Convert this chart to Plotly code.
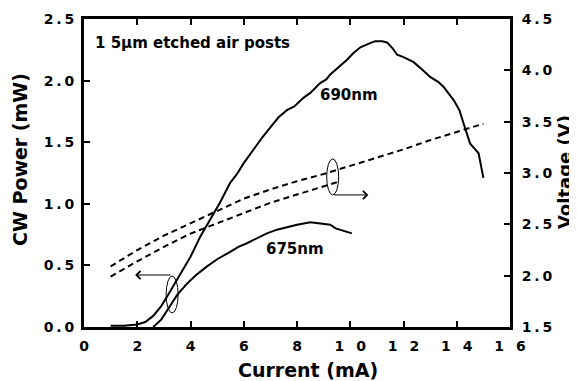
import plotly.graph_objects as go

# 690 nm device: CW power vs current
cur_690 = [1.0, 1.5, 2.0, 2.3, 2.6, 2.9, 3.1, 3.4, 3.73, 4.0, 4.36, 4.74, 5.11, 5.49, 5.74, 6.0,
           6.36, 6.7, 7.0, 7.3, 7.62, 7.9, 8.24, 8.5, 8.87, 9.1, 9.25, 9.62, 9.88, 10.1, 10.38,
           10.7, 10.94, 11.2, 11.38, 11.6, 11.76, 12.0, 12.38, 12.7, 13.0, 13.3, 13.5, 13.89,
           14.1, 14.26, 14.5, 14.7, 14.82, 15.0]
pow_690 = [0.01, 0.01, 0.02, 0.04, 0.09, 0.17, 0.24, 0.35, 0.46, 0.57, 0.73, 0.87, 1.01, 1.17, 1.24, 1.33,
           1.44, 1.54, 1.62, 1.70, 1.76, 1.79, 1.86, 1.90, 1.98, 2.01, 2.05, 2.12, 2.17, 2.22, 2.27,
           2.30, 2.32, 2.32, 2.31, 2.26, 2.21, 2.19, 2.15, 2.09, 2.03, 1.99, 1.95, 1.84,
           1.76, 1.65, 1.49, 1.44, 1.41, 1.21]

# 675 nm device: CW power vs current
cur_675 = [2.6, 2.9, 3.23, 3.5, 3.86, 4.2, 4.61, 5.0, 5.49, 5.8, 6.12, 6.5, 6.87, 7.25, 7.62,
           8.0, 8.5, 8.9, 9.25, 9.45, 9.62, 9.8, 10.06]
pow_675 = [0.0, 0.06, 0.17, 0.26, 0.35, 0.42, 0.49, 0.55, 0.61, 0.65, 0.68, 0.72, 0.76, 0.79, 0.81,
           0.83, 0.85, 0.84, 0.83, 0.80, 0.79, 0.78, 0.76]

# Voltage vs current (dashed)
cur_v690 = [1.0, 2.0, 3.0, 4.0, 5.0, 6.0, 7.0, 8.0, 9.0, 10.0, 11.0, 12.0, 13.0, 14.0, 15.0]
volt_690 = [2.09, 2.25, 2.39, 2.51, 2.63, 2.75, 2.84, 2.92, 2.99, 3.07, 3.15, 3.23, 3.32, 3.40, 3.48]
cur_v675 = [1.0, 2.0, 3.0, 4.0, 5.0, 6.0, 7.0, 8.0, 9.0, 9.5]
volt_675 = [1.99, 2.14, 2.28, 2.41, 2.51, 2.61, 2.71, 2.79, 2.87, 2.91]

x_ticks = [0, 2, 4, 6, 8, 10, 12, 14, 16]
x_ticktext = ["0", "2", "4", "6", "8", "1\u2002 0", "1\u2002 2", "1\u2002 4", "1\u2002 6"]
yl_ticks = [0.0, 0.5, 1.0, 1.5, 2.0, 2.5]
yl_ticktext = ["0\u2009.\u20090", "0\u2009.\u20095", "1\u2009.\u20090", "1\u2009.\u20095", "2\u2009.\u20090", "2\u2009.\u20095"]
yr_ticks = [1.5, 2.0, 2.5, 3.0, 3.5, 4.0, 4.5]
yr_ticktext = ["1\u2009.\u20095", "2\u2009.\u20090", "2\u2009.\u20095", "3\u2009.\u20090", "3\u2009.\u20095", "4\u2009.\u20090", "4\u2009.\u20095"]

FONT = "DejaVu Sans"

fig = go.Figure()
fig.add_trace(go.Scatter(x=cur_690, y=pow_690, mode="lines", line=dict(color="black", width=2), yaxis="y"))
fig.add_trace(go.Scatter(x=cur_675, y=pow_675, mode="lines", line=dict(color="black", width=2), yaxis="y"))
fig.add_trace(go.Scatter(x=cur_v690, y=volt_690, mode="lines", line=dict(color="black", width=2, dash="6px,4px"), yaxis="y2"))
fig.add_trace(go.Scatter(x=cur_v675, y=volt_675, mode="lines", line=dict(color="black", width=2, dash="6px,4px"), yaxis="y2"))

tickfont = dict(family=FONT, size=14, color="black", weight="bold")
fig.update_layout(
    width=577, height=381,
    margin=dict(l=76, r=75, t=11, b=62, autoexpand=False),
    paper_bgcolor="white", plot_bgcolor="white",
    showlegend=False,
    xaxis=dict(range=[0, 16], tickvals=x_ticks, ticktext=x_ticktext, ticks="inside", ticklen=6,
               tickwidth=2, tickcolor="black", showline=True, linewidth=3, linecolor="black",
               mirror="ticks", showgrid=False, zeroline=False, tickfont=tickfont, ticklabelstandoff=4),
    yaxis=dict(range=[0, 2.5], tickvals=yl_ticks, ticktext=yl_ticktext, ticks="inside", ticklen=6,
               tickwidth=2, tickcolor="black", showline=True, linewidth=3, linecolor="black",
               mirror=True, showgrid=False, zeroline=False, tickfont=tickfont, ticklabelstandoff=4),
    yaxis2=dict(range=[1.5, 4.5], tickvals=yr_ticks, ticktext=yr_ticktext, ticks="inside", ticklen=6,
                tickwidth=2, tickcolor="black", showline=True, linewidth=3, linecolor="black",
                overlaying="y", side="right", showgrid=False, zeroline=False, tickfont=tickfont,
                ticklabelstandoff=6),
)

# ellipses
fig.add_shape(type="circle", xref="x", yref="y", x0=3.31 - 0.225, x1=3.31 + 0.225, y0=0.264 - 0.15, y1=0.264 + 0.15,
              line=dict(color="black", width=1))
fig.add_shape(type="circle", xref="x", yref="y", x0=9.34 - 0.225, x1=9.34 + 0.225, y0=1.218 - 0.146, y1=1.218 + 0.146,
              line=dict(color="black", width=1))

# arrows
fig.add_annotation(x=1.92, y=0.422, ax=3.31, ay=0.422, xref="x", yref="y", axref="x", ayref="y", text="",
                   showarrow=True, arrowhead=4, arrowsize=1.6, arrowwidth=1, arrowcolor="black")
fig.add_annotation(x=10.68, y=1.072, ax=9.34, ay=1.072, xref="x", yref="y", axref="x", ayref="y", text="",
                   showarrow=True, arrowhead=4, arrowsize=1.6, arrowwidth=1, arrowcolor="black")

labfont = dict(family=FONT, size=15, color="black", weight="bold")
fig.add_annotation(x=0.34, y=2.305, xref="x", yref="y", text="1 5\u00b5m etched air posts", showarrow=False,
                   xanchor="left", yanchor="middle", font=labfont)
fig.add_annotation(x=9.96, y=1.883, xref="x", yref="y", text="690nm", showarrow=False, font=labfont)
fig.add_annotation(x=7.93, y=0.633, xref="x", yref="y", text="675nm", showarrow=False, font=labfont)

titlefont = dict(family=FONT, size=19, color="black", weight="bold")
fig.add_annotation(x=0.526, y=0, xref="paper", yref="paper", yshift=-43, text="Current (mA)", showarrow=False,
                   yanchor="middle", font=titlefont)
fig.add_annotation(x=0, y=0.542, xref="paper", yref="paper", xshift=-64, text="CW Power (mW)", showarrow=False,
                   textangle=-90, xanchor="center", yanchor="middle", font=titlefont)
fig.add_annotation(x=1, y=0.503, xref="paper", yref="paper", xshift=54, text="Voltage (V)", showarrow=False,
                   textangle=-90, xanchor="center", yanchor="middle",
                   font=dict(family=FONT, size=18, color="black", weight="bold"))

fig.write_html("out.html")
